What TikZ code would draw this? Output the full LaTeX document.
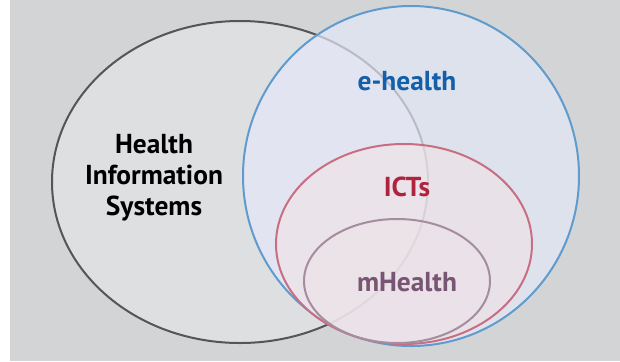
\documentclass[tikz,border=0pt]{standalone}
\usepackage{fontspec}
\setmainfont{PT Sans}
\definecolor{bggray}{RGB}{211,212,214}
\definecolor{hisline}{RGB}{85,85,88}
\definecolor{hisfill}{RGB}{222,223,225}
\definecolor{ehline}{RGB}{95,155,205}
\definecolor{ehfill}{RGB}{228,232,248}
\definecolor{ehtext}{RGB}{20,95,170}
\definecolor{ictline}{RGB}{200,110,130}
\definecolor{ictfill}{RGB}{242,226,228}
\definecolor{icttext}{RGB}{175,35,60}
\definecolor{mhline}{RGB}{165,140,158}
\definecolor{mhfill}{RGB}{240,228,232}
\definecolor{mhtext}{RGB}{120,85,115}
\tikzset{
  setlabel/.style={font=\bfseries\fontsize{27.5}{31}\selectfont, align=center}
}
\begin{document}
\begin{tikzpicture}[x=1bp, y=-1bp]
            \useasboundingbox (0,0) rectangle (620,361);
            \fill[white] (0,0) rectangle (620,361);
            \fill[bggray] (10,0) rectangle (620,361);
            % the four sets
            \draw[hisline, line width=2bp, fill=hisfill] (240,182) ellipse [x radius=188, y radius=161];
            \draw[ehline, line width=2bp, fill=ehfill, fill opacity=0.7] (411,176) ellipse [x radius=168, y radius=170];
            \draw[ictline, line width=2bp, fill=ictfill, fill opacity=0.55] (404,244) ellipse [x radius=128, y radius=100];
            \draw[mhline, line width=2bp, fill=mhfill, fill opacity=0.35] (397,281) ellipse [x radius=93, y radius=62];
            % labels
            \node[setlabel] (his) at (154,178) {Health\\Information\\Systems};
            \node[setlabel, ehtext] (eh) at (407,81) {e-health};
            \node[setlabel, icttext] (ict) at (407,187) {ICTs};
            \node[setlabel, mhtext] (mh) at (407,282) {mHealth};
        \end{tikzpicture}
\end{document}
